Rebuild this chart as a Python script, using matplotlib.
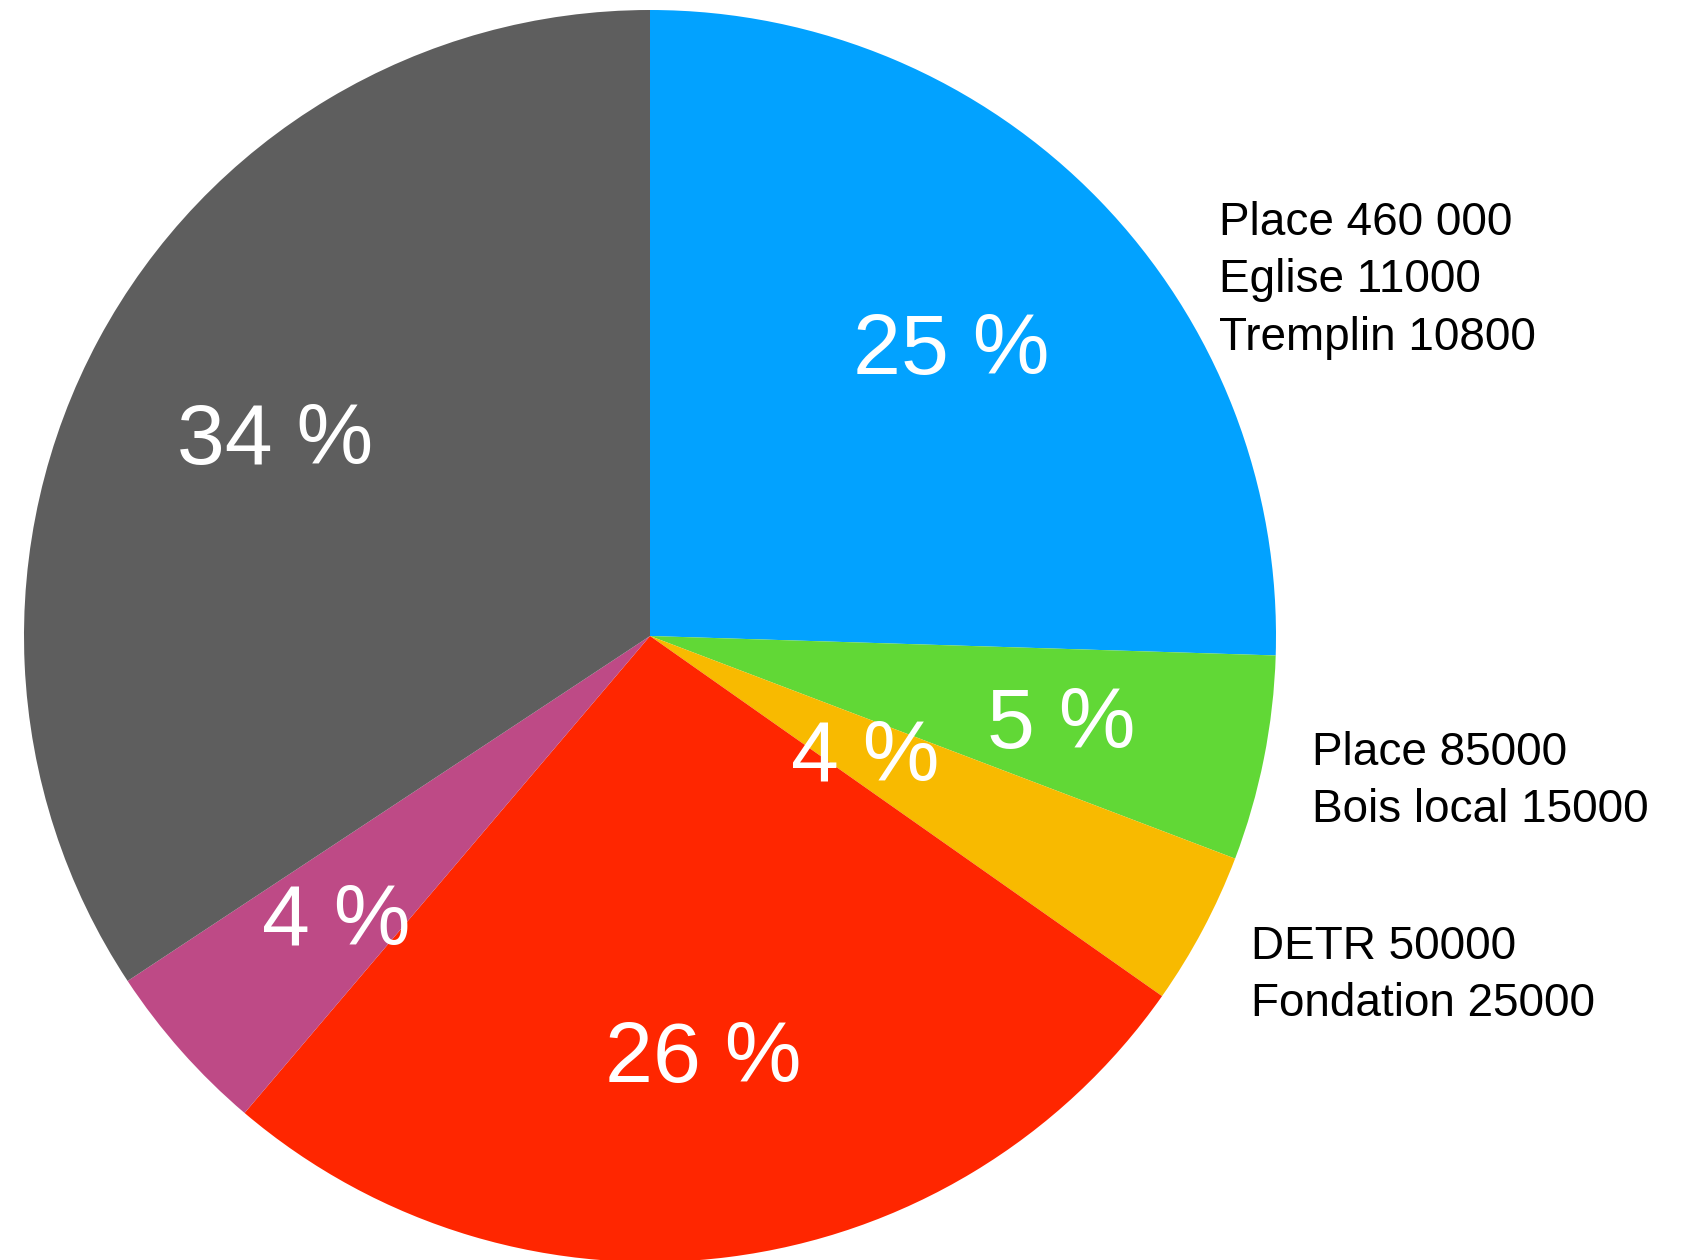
import numpy as np
import matplotlib.pyplot as plt

# Slice values (clockwise from 12 o'clock)
slice_names = ["Place/Eglise/Tremplin", "Place/Bois local", "DETR/Fondation",
               "Rouge", "Rose", "Gris"]
slice_values = [481800, 100000, 75000, 500000, 85000, 648000]
slice_labels = ["25 %", "5 %", "4 %", "26 %", "4 %", "34 %"]
slice_colors = ["#02A2FF", "#61D836", "#F8BA00", "#FF2600", "#BE4A86", "#5E5E5E"]
# how far from the centre each percent label sits (fraction of radius)
label_dist = [0.67, 0.67, 0.39, 0.67, 0.67, 0.68]

# Side notes: lines of text, left x and first baseline (image pixels)
notes = [
    (["Place 460 000", "Eglise 11000", "Tremplin 10800"], 1219, 235),
    (["Place 85000", "Bois local 15000"], 1312, 765),
    (["DETR 50000", "Fondation 25000"], 1251, 959),
]

W, H = 1694, 1260
fig = plt.figure(figsize=(W / 100, H / 100), dpi=100)
ax = fig.add_axes([0, 0, 1, 1])
plt.rcParams["font.family"] = ["Liberation Sans", "DejaVu Sans"]
fam = ["Liberation Sans", "DejaVu Sans"]

cx, cy, r = 650, H - 636, 626
wedges, _ = ax.pie(slice_values, colors=slice_colors, startangle=90,
                   counterclock=False, center=(cx, cy), radius=r,
                   wedgeprops={"linewidth": 0}, frame=True)

# percent labels along the middle of each wedge
for w, txt, d in zip(wedges, slice_labels, label_dist):
    mid = np.deg2rad((w.theta1 + w.theta2) / 2)
    ax.text(cx + d * r * np.cos(mid), cy + d * r * np.sin(mid) - 8, txt,
            ha="center", va="center", color="white", fontsize=62, family=fam)

line_step = 57.5
for lines, x0, y0 in notes:
    for i, line in enumerate(lines):
        ax.text(x0, H - (y0 + i * line_step), line, ha="left", va="baseline",
                color="black", fontsize=33, family=fam)

ax.set_xlim(0, W)
ax.set_ylim(0, H)
ax.set_aspect("equal")
ax.axis("off")

plt.savefig("out.png", dpi=100)
